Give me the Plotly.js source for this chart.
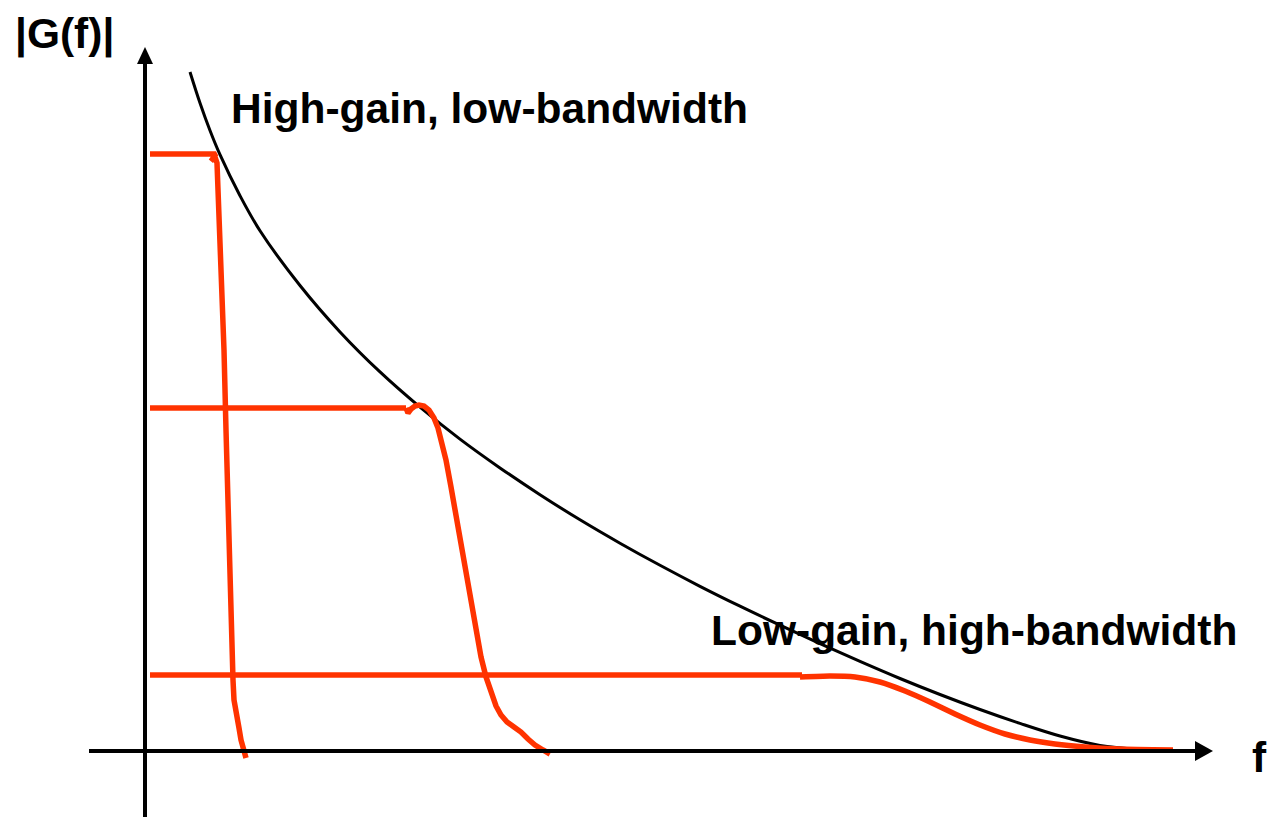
<!DOCTYPE html>
<html>
<head>
<meta charset="utf-8">
<script src="https://cdn.plot.ly/plotly-3.0.1.min.js"></script>
<style>html,body{margin:0;padding:0;background:#fff;}#chart{width:1268px;height:817px;}</style>
</head>
<body>
<div id="chart"></div>
<script>
// Gain-bandwidth envelope (black curve), in picture coordinates
const envelopeX = [190, 200, 210, 220, 240, 260, 300, 340, 380, 420, 460, 500, 540, 580, 620, 660, 700, 740, 780, 820, 860, 900, 940, 980, 1020, 1060, 1100, 1140, 1160];
const envelopeY = [72, 103, 130.5, 154.7, 195.7, 230.7, 285.5, 331.9, 371.9, 407.1, 439.1, 467.9, 494.7, 519.8, 543.2, 565.3, 586.3, 606.2, 625.2, 643.6, 661.4, 678.5, 694.5, 709.5, 723.4, 736, 745.4, 749.5, 750.3];

// High-gain, low-bandwidth response
const highGainX = [150, 216, 211, 215, 217, 218, 220, 222, 224, 226, 228, 230, 231, 233, 234, 236, 239, 241, 243, 246];
const highGainY = [154, 154, 161, 157, 163, 190, 230, 280, 350, 430, 510, 590, 640, 680, 700, 715, 728, 740, 750, 758];

// Medium-gain response
const midGainFlatX = [150, 406];
const midGainFlatY = [408, 408];
const midGainX = [406, 408, 411, 415, 419, 424, 429, 434, 438, 442, 446, 451, 456, 461, 466, 471, 476, 481, 486, 491, 496, 501, 507, 514, 521, 528, 535, 543, 550];
const midGainY = [408, 413, 409, 406, 405, 406, 410, 418, 428, 442, 460, 487, 515, 545, 575, 605, 633, 657, 677, 693, 706, 715, 722, 727, 732, 739, 745, 750, 754];

// Low-gain, high-bandwidth response
const lowGainFlatX = [150, 802];
const lowGainFlatY = [675, 675];
const lowGainX = [800, 830, 855, 880, 905, 930, 955, 980, 1005, 1030, 1055, 1085, 1120, 1173];
const lowGainY = [677, 676, 677, 682, 691, 702, 714, 725, 734, 740, 744, 747, 749, 750];

// Labels
const labelHigh = "High-gain, low-bandwidth";
const labelLow = "Low-gain, high-bandwidth";
const labelY = "|G(f)|";
const labelX = "f";

const red = "rgb(255,51,0)";

const traces = [
  {x: envelopeX, y: envelopeY, mode: "lines", line: {color: "black", width: 3, shape: "spline", smoothing: 1}},
  {x: highGainX, y: highGainY, mode: "lines", line: {color: red, width: 5.5, shape: "linear"}},
  {x: midGainFlatX, y: midGainFlatY, mode: "lines", line: {color: red, width: 5.5}},
  {x: midGainX, y: midGainY, mode: "lines", line: {color: red, width: 5.5, shape: "linear"}},
  {x: lowGainFlatX, y: lowGainFlatY, mode: "lines", line: {color: red, width: 5.5}},
  {x: lowGainX, y: lowGainY, mode: "lines", line: {color: red, width: 5.5, shape: "spline", smoothing: 0.5}}
];

const font = {family: "Liberation Sans, Arial, sans-serif", size: 42.5, color: "black"};

const layout = {
  width: 1268, height: 817,
  margin: {l: 0, r: 0, t: 0, b: 0},
  paper_bgcolor: "white", plot_bgcolor: "white",
  showlegend: false,
  xaxis: {range: [0, 1268], visible: false, fixedrange: true},
  yaxis: {range: [817, 0], visible: false, fixedrange: true},
  shapes: [
    {type: "line", xref: "x", yref: "y", x0: 145, x1: 145, y0: 62, y1: 817, line: {color: "black", width: 4}},
    {type: "path", xref: "x", yref: "y", path: "M145,47 L137,64 L153,64 Z", fillcolor: "black", line: {width: 0}},
    {type: "line", xref: "x", yref: "y", x0: 89, x1: 1198, y0: 751, y1: 751, line: {color: "black", width: 4}},
    {type: "path", xref: "x", yref: "y", path: "M1213,751 L1195,741 L1195,761 Z", fillcolor: "black", line: {width: 0}}
  ],
  annotations: [
    {x: 229, y: 108, xref: "x", yref: "y", xanchor: "left", yanchor: "middle", showarrow: false, text: "<b>" + labelHigh + "</b>", font: font},
    {x: 709, y: 630, xref: "x", yref: "y", xanchor: "left", yanchor: "middle", showarrow: false, text: "<b>" + labelLow + "</b>", font: font},
    {x: 13, y: 34, xref: "x", yref: "y", xanchor: "left", yanchor: "middle", showarrow: false, text: "<b>" + labelY + "</b>", font: font},
    {x: 1268, y: 757, xref: "x", yref: "y", xanchor: "right", yanchor: "middle", showarrow: false, borderpad: 0, text: "<b>" + labelX + "</b>", font: font}
  ]
};

Plotly.newPlot("chart", traces, layout, {displayModeBar: false, staticPlot: true});
</script>
</body>
</html>
